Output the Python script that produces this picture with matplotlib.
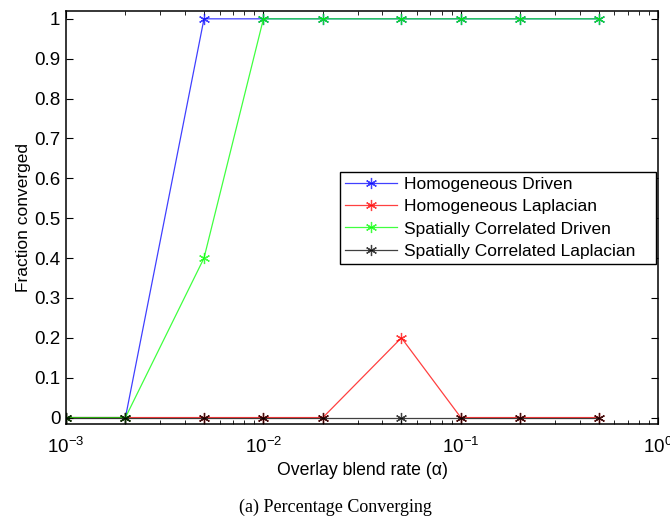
import matplotlib.pyplot as plt
import numpy as np

plt.rcParams['font.family'] = ['Liberation Sans', 'DejaVu Sans']
plt.rcParams['mathtext.fontset'] = 'custom'
plt.rcParams['mathtext.rm'] = 'Liberation Sans'
plt.rcParams['mathtext.it'] = 'Liberation Sans:italic'

# Overlay blend rates and fraction converged for each method
blend_rate = [1e-3, 2e-3, 5e-3, 1e-2, 2e-2, 5e-2, 1e-1, 2e-1, 5e-1]
homog_driven = [0, 0, 1, 1, 1, 1, 1, 1, 1]
homog_laplacian = [0, 0, 0, 0, 0, 0.2, 0, 0, 0]
spatial_driven = [0, 0, 0.4, 1, 1, 1, 1, 1, 1]
spatial_laplacian = [0, 0, 0, 0, 0, 0, 0, 0, 0]

series = [
    ('Homogeneous Driven', homog_driven, '#0000ff'),
    ('Homogeneous Laplacian', homog_laplacian, '#ff0000'),
    ('Spatially Correlated Driven', spatial_driven, '#00ff00'),
    ('Spatially Correlated Laplacian', spatial_laplacian, '#000000'),
]

fig = plt.figure(figsize=(6.7, 5.17), dpi=100)
ax = fig.add_axes([0.0985, 0.18, 0.884, 0.799])

for name, vals, color in series:
    ax.plot(blend_rate, vals, color=color, lw=0.9, alpha=0.75,
            marker=(6, 2, 0), markersize=8, markeredgewidth=0.9,
            markeredgecolor=color, label=name)

ax.set_xscale('log')
ax.set_xlim(1e-3, 1)
ax.set_ylim(-0.016, 1.02)
ax.set_yticks(np.arange(0, 1.01, 0.1))
ax.set_yticklabels(['0', '0.1', '0.2', '0.3', '0.4', '0.5', '0.6', '0.7', '0.8', '0.9', '1'])

ax.tick_params(which='both', direction='in', top=True, right=True)
ax.tick_params(axis='y', labelsize=13.5, pad=4)
ax.tick_params(axis='x', labelsize=13.5, pad=9)
ax.tick_params(which='major', length=5, width=0.8)
ax.tick_params(which='minor', length=3, width=0.6)
for sp in ax.spines.values():
    sp.set_linewidth(1.1)

ax.set_xlabel('Overlay blend rate (α)', fontsize=12.7, labelpad=4)
ax.set_ylabel('Fraction converged', fontsize=12.5, labelpad=2)

leg = ax.legend(loc='upper left', bbox_to_anchor=(0.462, 0.3, 0.535, 0.31),
                mode='expand', fontsize=12.5,
                fancybox=False, framealpha=1, edgecolor='black',
                handlelength=3.0, borderpad=0.3, labelspacing=0.4,
                handletextpad=0.4, borderaxespad=0)
leg.get_frame().set_linewidth(1.0)

fig.text(0.5, 0.019, '(a) Percentage Converging', ha='center', va='center',
         fontsize=13, family=['Liberation Serif', 'DejaVu Serif'])

fig.savefig('out.png', dpi=100)
